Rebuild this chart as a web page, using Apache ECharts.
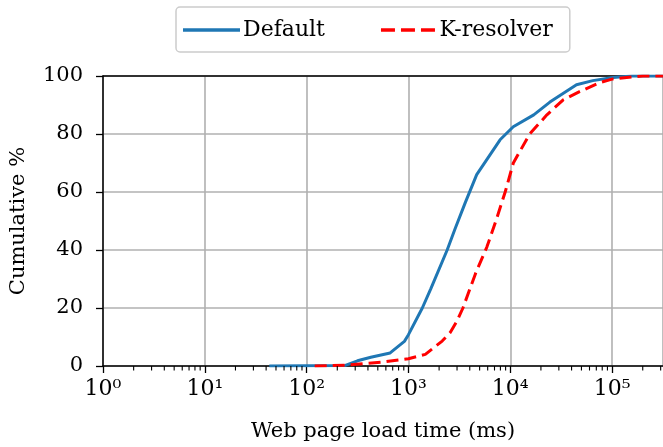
<!DOCTYPE html>
<html><head><meta charset="utf-8">
<script src="https://cdn.jsdelivr.net/npm/echarts@6/dist/echarts.min.js"></script>
<style>html,body{margin:0;padding:0;background:#fff}#c{width:663px;height:447px}</style>
</head><body><div id="c"></div>
<script>
// Data (x in ms, y in cumulative %)
const defaultX = [43, 240, 316, 427, 661, 912, 1000, 1368, 1660, 2400, 2871, 3630, 4680, 7940, 10700, 17000, 24500, 44700, 64600, 102000, 158000, 316000];
const defaultY = [0, 0.2, 1.8, 3.0, 4.5, 8.5, 10.8, 20, 26.7, 40, 47.3, 56.5, 66, 78, 82.5, 86.6, 91, 97, 98.4, 99.5, 100, 100];
const kresX = [120, 240, 537, 1000, 1466, 2143, 2564, 3000, 3428, 4571, 5888, 7345, 8913, 10715, 15500, 22900, 33100, 47900, 74100, 102000, 200000, 316000];
const kresY = [0, 0.3, 1.3, 2.5, 4.0, 8.6, 11.5, 15.5, 20, 32, 41, 50.8, 60, 70, 80, 86.6, 91.8, 94.6, 97.6, 99, 100, 100];
const seriesNames = ['Default', 'K-resolver'];
const yTicks = [0, 20, 40, 60, 80, 100];
const xMin = 1, xMax = 316228;
const SUP = ['⁰', '¹', '²', '³', '⁴', '⁵', '⁶'];

const FONT = 'DejaVu Serif';
const minorVals = [];
for (let k = 0; k <= 5; k++) for (let m = 2; m <= 9; m++) { const v = m * Math.pow(10, k); if (v < xMax) minorVals.push([v, 0]); }

const chart = echarts.init(document.getElementById('c'), null, {renderer: 'canvas'});
chart.setOption({
  animation: false,
  backgroundColor: '#fff',
  textStyle: {fontFamily: FONT},
  grid: {left: 103, right: -3, top: 76, bottom: 79, containLabel: false},
  legend: {
    data: [
      {name: seriesNames[0], icon: 'path://M0,0h57v3.5h-57z'},
      {name: seriesNames[1], icon: 'path://M0,0h14v3.5h-14zM20,0h14v3.5h-14zM40,0h14v3.5h-14z'}
    ],
    left: 176, top: 7,
    padding: [12, 17, 11, 7], itemGap: 56, itemWidth: 57, itemHeight: 3.5,
    borderColor: '#cccccc', borderWidth: 1.5, borderRadius: 4,
    textStyle: {fontFamily: FONT, fontSize: 22, color: '#000', padding: [0, 0, 0, -2]}
  },
  xAxis: [{
    type: 'log', logBase: 10, min: xMin, max: xMax,
    name: 'Web page load time (ms)', nameLocation: 'middle', nameGap: 55,
    nameTextStyle: {fontFamily: FONT, fontSize: 21, color: '#000'},
    axisLine: {lineStyle: {color: '#000', width: 1.5}},
    axisTick: {show: true, inside: false, length: 7, lineStyle: {color: '#000', width: 1.3}},
    axisLabel: {
      margin: 12, showMaxLabel: false, fontFamily: FONT, fontSize: 22, color: '#000',
      formatter: v => '10' + SUP[Math.round(Math.log10(v))]
    },
    splitLine: {show: true, lineStyle: {color: '#b0b0b0', width: 1.6}}
  }, {
    type: 'log', logBase: 10, min: xMin, max: xMax, position: 'top',
    axisLine: {show: true, lineStyle: {color: '#000', width: 1.5}},
    axisTick: {show: false}, axisLabel: {show: false}, splitLine: {show: false}
  }],
  yAxis: {
    type: 'value', min: 0, max: 100, interval: 20,
    name: 'Cumulative %', nameLocation: 'middle', nameGap: 74, nameRotate: 90,
    nameTextStyle: {fontFamily: FONT, fontSize: 21, color: '#000'},
    axisLine: {show: true, lineStyle: {color: '#000', width: 1.5}},
    axisTick: {show: true, inside: false, length: 7, lineStyle: {color: '#000', width: 1.3}},
    axisLabel: {margin: 20, fontFamily: FONT, fontSize: 21, color: '#000',
      formatter: v => yTicks.includes(v) ? String(v) : ''},
    splitLine: {show: true, lineStyle: {color: '#b0b0b0', width: 1.6}}
  },
  series: [{
    name: seriesNames[0], type: 'line', symbol: 'none', smooth: false,
    data: defaultX.map((x, i) => [x, defaultY[i]]),
    lineStyle: {color: '#1f77b4', width: 3}, itemStyle: {color: '#1f77b4'}, z: 3
  }, {
    name: seriesNames[1], type: 'line', symbol: 'none', smooth: false,
    data: kresX.map((x, i) => [x, kresY[i]]),
    lineStyle: {color: '#ff0000', width: 3, type: [12, 6]}, itemStyle: {color: '#ff0000'}, z: 4
  }, {
    name: 'minor', type: 'custom', silent: true, clip: false, z: 10,
    data: minorVals,
    renderItem: (params, api) => {
      const p = api.coord([api.value(0), 0]);
      return {type: 'line', shape: {x1: p[0], y1: p[1], x2: p[0], y2: p[1] + 4.5},
        style: {stroke: '#000', lineWidth: 1.1}};
    }
  }]
});
</script></body></html>
